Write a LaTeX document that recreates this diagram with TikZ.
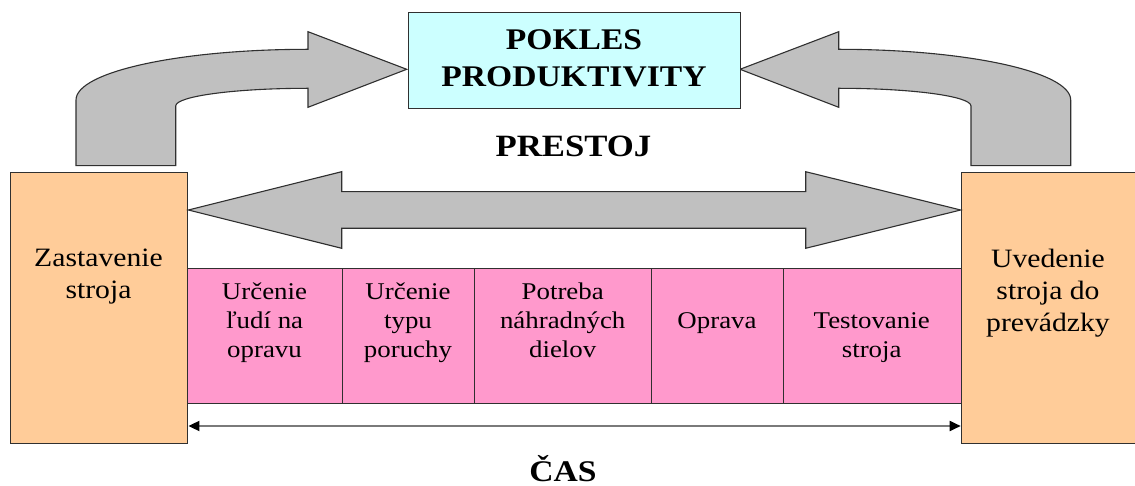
\documentclass[tikz,border=0pt]{standalone}
\usepackage{fontspec}
\setmainfont{Liberation Serif}[FakeStretch=1.12]
\usetikzlibrary{arrows.meta}

\definecolor{boxcyan}{HTML}{CCFFFF}
\definecolor{boxorange}{HTML}{FFCC99}
\definecolor{boxpink}{HTML}{FF99CC}
\definecolor{arrowgray}{HTML}{C0C0C0}
\definecolor{edgegray}{HTML}{303030}
\definecolor{timegray}{HTML}{7A7A7A}

% centred multi-line text whose reference point is the first baseline
\newcommand\txtlines[1]{\begin{tabular}[t]{@{}c@{}}#1\end{tabular}}

\begin{document}
\begin{tikzpicture}[x=1pt,y=-1pt,
  box/.style={draw=edgegray, line width=1.1pt, inner sep=0pt, anchor=north west},
  blockarrow/.style={fill=arrowgray, draw=edgegray, line width=1.1pt, line join=miter},
  celltext/.style={anchor=base, inner sep=0pt, font=\fontsize{24}{29}\selectfont},
  sidetext/.style={anchor=base, inner sep=0pt, font=\fontsize{26.5}{31.5}\selectfont},
  headtext/.style={anchor=base, inner sep=0pt, font=\bfseries\fontsize{30}{37}\selectfont},
]
\useasboundingbox (0,0) rectangle (1135,486);

% curved arrow rising from the left box to the title box
\draw[blockarrow] (76,165.7) -- (76,100)
  .. controls (76,71.8) and (179.9,49.3) .. (308,49.3)
  -- (308,31.7) -- (406.7,69.3) -- (308,107.3) -- (308,88.3)
  .. controls (234.9,88.3) and (175.7,96.2) .. (175.7,106)
  -- (175.7,165.7) -- cycle;
% the same arrow mirrored on the right
\begin{scope}[xshift=1146.7pt, xscale=-1]
\draw[blockarrow] (76,165.7) -- (76,100)
  .. controls (76,71.8) and (179.9,49.3) .. (308,49.3)
  -- (308,31.7) -- (406.7,69.3) -- (308,107.3) -- (308,88.3)
  .. controls (234.9,88.3) and (175.7,96.2) .. (175.7,106)
  -- (175.7,165.7) -- cycle;
\end{scope}

% title box
\node[box, fill=boxcyan, minimum width=332pt, minimum height=96.6pt] (prod) at (408,11.7) {};

% row of activity cells
\node[box, fill=boxpink, minimum width=154.4pt, minimum height=134.4pt] (c1) at (187.3,268.3) {};
\node[box, fill=boxpink, minimum width=132.6pt, minimum height=134.4pt] (c2) at (341.7,268.3) {};
\node[box, fill=boxpink, minimum width=176.7pt, minimum height=134.4pt] (c3) at (474.3,268.3) {};
\node[box, fill=boxpink, minimum width=132.3pt, minimum height=134.4pt] (c4) at (651,268.3) {};
\node[box, fill=boxpink, minimum width=177.7pt, minimum height=134.4pt] (c5) at (783.3,268.3) {};

% start and end boxes
\node[box, fill=boxorange, minimum width=177.3pt, minimum height=271pt] (zast) at (10,171.7) {};
\node[box, fill=boxorange, minimum width=180pt, minimum height=271pt] (uved) at (960.7,171.7) {};

% two-headed block arrow between the boxes
\coordinate (dl) at (zast.east |- 0,210);
\coordinate (dr) at (uved.west |- 0,210);
\draw[blockarrow] (dl) -- (341.7,171.7) -- (341.7,191.7) -- (805.7,191.7)
  -- (805.7,171.7) -- (dr) -- (805.7,248.3) -- (805.7,228.3)
  -- (341.7,228.3) -- (341.7,248.3) -- cycle;

% time axis
\coordinate (tl) at (zast.east |- 0,426);
\coordinate (tr) at (uved.west |- 0,426);
\draw[timegray, line width=1.8pt,
  {Triangle[length=11pt,width=10pt,color=black]}-{Triangle[length=11pt,width=10pt,color=black]}]
  (tl) -- (tr);

% texts
\node[headtext] (ttitle) at (574,50) {\txtlines{POKLES\\PRODUKTIVITY}};
\node[headtext, font=\bfseries\fontsize{31}{37}\selectfont] (tprestoj) at (573.5,156.7) {PRESTOJ};
\node[headtext] (tcas) at (563,481.3) {ČAS};

\node[sidetext] (tzast) at (98.5,266.7) {\txtlines{Zastavenie\\stroja}};
\node[sidetext, font=\fontsize{26.5}{32}\selectfont] (tuved) at (1048,267.3) {\txtlines{Uvedenie\\stroja do\\prevádzky}};

\node[celltext] (t1) at (264.5,299.3) {\txtlines{Určenie\\ľudí na\\opravu}};
\node[celltext] (t2) at (408,299.3) {\txtlines{Určenie\\typu\\poruchy}};
\node[celltext] (t3) at (562.7,299.3) {\txtlines{Potreba\\náhradných\\dielov}};
\node[celltext] (t4) at (717,328.3) {Oprava};
\node[celltext] (t5) at (871.7,328.3) {\txtlines{Testovanie\\stroja}};
\end{tikzpicture}
\end{document}
